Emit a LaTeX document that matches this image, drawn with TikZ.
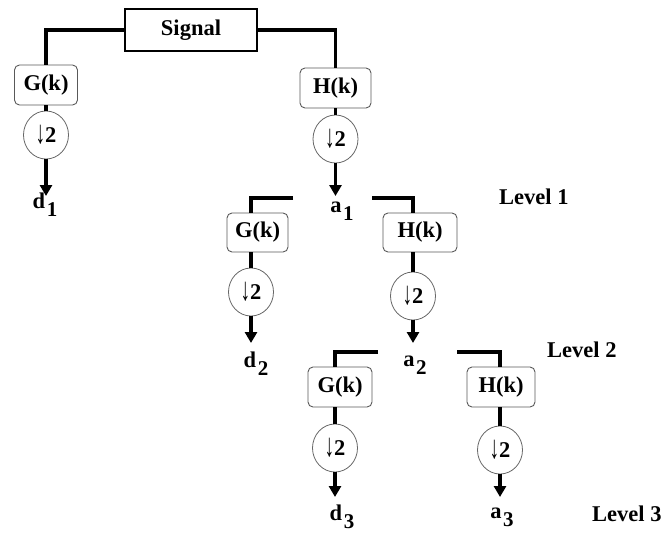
\documentclass[tikz,border=0pt]{standalone}
\usepackage{fontspec}
\setmainfont{Liberation Serif}
\usetikzlibrary{arrows.meta,shapes.geometric}

\newcommand{\bigtxt}{\bfseries\fontsize{22.5}{26}\selectfont}
\newcommand{\sigsub}[2]{#1\kern1.5pt\raisebox{-8pt}{\fontsize{21}{24}\selectfont #2}}
\newcommand{\downtwo}{\raisebox{-1pt}{\scalebox{0.85}[1.45]{\textmd{↓}}}2}

\tikzset{
  wire/.style={line width=3.4pt},
  flow/.style={line width=3.4pt,-{Triangle[width=12pt,length=11pt]}},
  sigbox/.style={draw,line width=1.5pt,minimum width=132pt,minimum height=42pt,inner sep=0pt,font=\bigtxt},
  filt/.style={draw=black!65,line width=0.9pt,rounded corners=5pt,minimum height=40pt,inner sep=0pt,font=\bigtxt},
  dsamp/.style={ellipse,draw=black!60,line width=0.8pt,minimum width=45pt,minimum height=48pt,inner sep=0pt,font=\bigtxt},
  lbl/.style={anchor=base,inner sep=0pt,font=\bigtxt},
  lvl/.style={anchor=base west,inner sep=0pt,font=\bigtxt}
}

\begin{document}
\begin{tikzpicture}[x=1pt,y=-1pt]
\useasboundingbox (0,0) rectangle (663,533);

% input and first split
\node[sigbox] (sig) at (191,30) {Signal};
\node[filt,minimum width=63pt] (g1) at (46,85) {G(k)};
\node[filt,minimum width=71pt] (h1) at (335.5,88) {H(k)};
\node[dsamp] (c1g) at (46,135) {\downtwo};
\node[dsamp] (c1h) at (335.5,139) {\downtwo};
\coordinate (t1g) at (46,196);
\coordinate (t1h) at (335.5,196);

\draw[wire] (sig.west) -| (g1.north);
\draw[wire] (sig.east) -| (h1.north);
\draw[wire] (g1.south) -- (c1g.north);
\draw[wire] (h1.south) -- (c1h.north);
\draw[flow] (c1g.south) -- (t1g);
\draw[flow] (c1h.south) -- (t1h);

\node[lbl] (d1) at (45,208) {\sigsub{d}{1}};
\node[lbl] (a1) at (342,212) {\sigsub{a}{1}};
\node[lvl] (lv1) at (499,204) {Level 1};

% second split
\coordinate (b1l) at (293,198);
\coordinate (b1r) at (372,198);
\node[filt,minimum width=61pt,minimum height=39pt] (g2) at (257.5,232.5) {G(k)};
\node[filt,minimum width=74pt,minimum height=39pt] (h2) at (420,232.5) {H(k)};
\node[dsamp] (c2g) at (251,292) {\downtwo};
\node[dsamp] (c2h) at (413,296) {\downtwo};
\coordinate (t2g) at (251,343);
\coordinate (t2h) at (413,343);

\draw[wire] (b1l) -| (c2g.north |- g2.north);
\draw[wire] (b1r) -| (c2h.north |- h2.north);
\draw[wire] (c2g.north |- g2.south) -- (c2g.north);
\draw[wire] (c2h.north |- h2.south) -- (c2h.north);
\draw[flow] (c2g.south) -- (t2g);
\draw[flow] (c2h.south) -- (t2h);

\node[lbl] (d2) at (256,367) {\sigsub{d}{2}};
\node[lbl] (a2) at (415,366) {\sigsub{a}{2}};
\node[lvl] (lv2) at (547,357) {Level 2};

% third split
\coordinate (b2l) at (378,352);
\coordinate (b2r) at (457,352);
\node[filt,minimum width=64pt] (g3) at (340,387) {G(k)};
\node[filt,minimum width=68pt] (h3) at (501,387) {H(k)};
\node[dsamp] (c3g) at (335,448) {\downtwo};
\node[dsamp] (c3h) at (500,450) {\downtwo};
\coordinate (t3g) at (335,497);
\coordinate (t3h) at (500,497);

\draw[wire] (b2l) -| (c3g.north |- g3.north);
\draw[wire] (b2r) -| (c3h.north |- h3.north);
\draw[wire] (c3g.north |- g3.south) -- (c3g.north);
\draw[wire] (c3h.north |- h3.south) -- (c3h.north);
\draw[flow] (c3g.south) -- (t3g);
\draw[flow] (c3h.south) -- (t3h);

\node[lbl] (d3) at (342,520) {\sigsub{d}{3}};
\node[lbl] (a3) at (502,518) {\sigsub{a}{3}};
\node[lvl] (lv3) at (592,521) {Level 3};
\end{tikzpicture}
\end{document}
